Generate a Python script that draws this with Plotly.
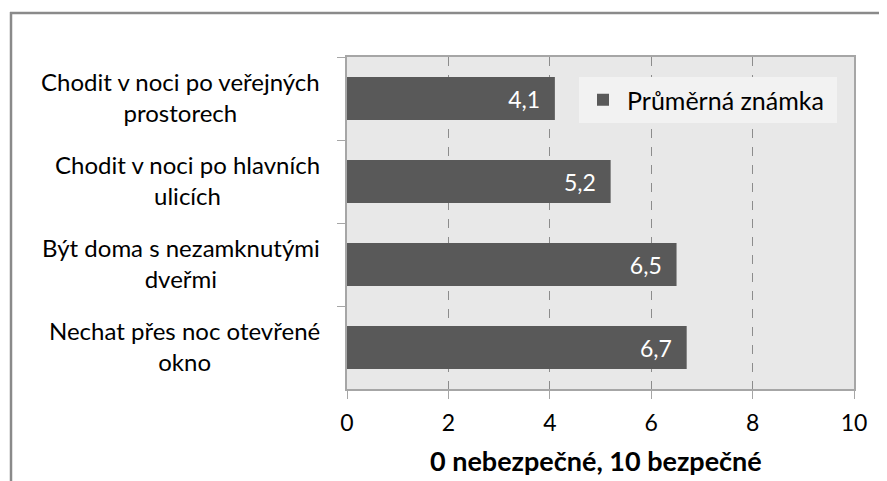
import plotly.graph_objects as go

categories = [
    "Chodit v noci po veřejných<br>prostorech",
    "Chodit v noci po hlavních<br>ulicích",
    "Být doma s nezamknutými<br>dveřmi",
    "Nechat přes noc otevřené<br>okno",
]
values = [4.1, 5.2, 6.5, 6.7]
series_name = "Průměrná známka"
x_title = "0 nebezpečné, 10 bezpečné"
x_ticks = [0, 2, 4, 6, 8, 10]

FONT = "Lato"
OFF = 8  # page body margin offset
VW, VH = 887, 481
W, H = VW - OFF, VH - OFF
PL, PT, PR, PB = 347, 57, 854, 389  # plot area in viewport pixels
pw, ph = PR - PL, PB - PT
L, T = PL - OFF, PT - OFF
R = W - (PR - OFF)
B = H - (PB - OFF)

labels = [f"{v:.1f}".replace(".", ",") + "\u00a0\u00a0" for v in values]

fig = go.Figure()
fig.add_trace(go.Bar(
    y=categories, x=values, orientation="h", name=series_name,
    marker=dict(color="#595959", line=dict(width=0)),
    text=labels, textposition="inside", insidetextanchor="end",
    textfont=dict(color="white", size=23, family=FONT),
    showlegend=True,
))

def px_x(p):
    return (p - PL) / pw

def px_y(p):
    return (PB - p) / ph

annotations = []
for c in categories:
    annotations.append(dict(
        x=-25 / pw, xref="paper", y=c, yref="y", text=c, showarrow=False,
        xanchor="right", yanchor="middle", align="center", yshift=2,
        font=dict(size=24, family=FONT, color="#000"),
    ))
annotations.append(dict(
    x=px_x(596), xref="paper", y=px_y(460), yref="paper",
    text="<b>" + x_title + "</b>", showarrow=False,
    xanchor="center", yanchor="middle",
    font=dict(size=27, family=FONT, color="#000"),
))

shapes = [
    dict(type="line", xref="paper", yref="paper", x0=px_x(11), x1=px_x(11),
         y0=px_y(12), y1=px_y(VH + 20), line=dict(color="#8a8a8a", width=2.5)),
    dict(type="line", xref="paper", yref="paper", x0=px_x(10), x1=px_x(VW + 20),
         y0=px_y(13), y1=px_y(13), line=dict(color="#8a8a8a", width=2.5)),
]

fig.update_layout(
    width=W, height=H,
    margin=dict(l=L, r=R, t=T, b=B, autoexpand=False),
    paper_bgcolor="white", plot_bgcolor="#e8e8e8",
    bargap=0.48,
    font=dict(family=FONT, size=23, color="#000"),
    legend=dict(
        x=px_x(579), y=px_y(77), xanchor="left", yanchor="top",
        bgcolor="#f2f2f2", font=dict(size=25, family=FONT),
        orientation="h", entrywidth=205, entrywidthmode="pixels",
        itemwidth=38,
    ),
    xaxis=dict(
        range=[0, 10], tickvals=x_ticks, ticktext=[str(t) for t in x_ticks],
        showgrid=True, gridcolor="#8c8c8c", griddash="dash", gridwidth=1,
        zeroline=False, showline=True, linecolor="#a6a6a6", linewidth=1.5,
        mirror=True, ticks="outside", ticklen=8, tickcolor="#a6a6a6",
        tickfont=dict(size=23, family=FONT), fixedrange=True,
        ticklabelstandoff=5,
    ),
    yaxis=dict(
        autorange="reversed", showticklabels=False, tickson="boundaries",
        ticks="outside", ticklen=8, tickcolor="#a6a6a6",
        showline=True, linecolor="#a6a6a6", linewidth=1.5, mirror=True,
        showgrid=False, zeroline=False,
    ),
    annotations=annotations, shapes=shapes,
)

fig.write_html("out.html")
